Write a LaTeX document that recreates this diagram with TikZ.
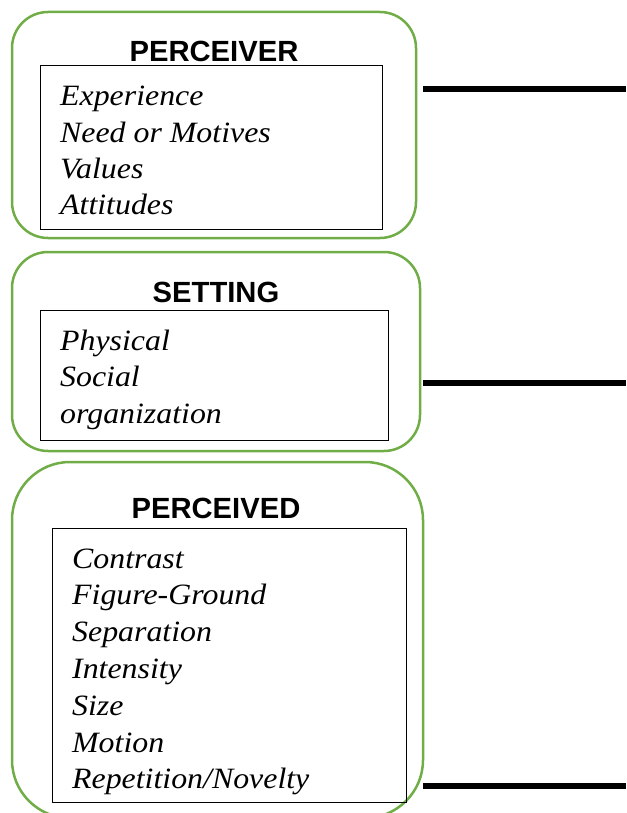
\documentclass[tikz,border=0pt]{standalone}
\usepackage{fontspec}
\setmainfont{Liberation Serif}
\newfontfamily\arialfont{Liberation Sans}
\definecolor{grn}{RGB}{112,173,71}
\newcommand{\wideitem}[1]{\scalebox{1.08}[1]{#1}}
\tikzset{
 outerbox/.style={draw=grn, line width=2.5pt, anchor=north west, inner sep=0, outer sep=0},
 innerbox/.style={draw=black, line width=1pt, anchor=north west, inner sep=0, outer sep=0},
 titletext/.style={font=\arialfont\bfseries\fontsize{29.2}{34}\selectfont, anchor=base, inner sep=0},
 itemtext/.style={font=\itshape\fontsize{29.5}{36}\selectfont, anchor=base west, inner sep=0},
 link/.style={line width=6pt}
}
\begin{document}
\begin{tikzpicture}[x=1pt,y=-1pt]
\useasboundingbox (0,0) rectangle (626,813);
% PERCEIVER
\node[outerbox, rounded corners=36pt, minimum width=404pt, minimum height=226pt] (perceiver) at (12,12) {};
\node[innerbox, minimum width=342pt, minimum height=163pt] (perceiverlist) at (40,66) {};
\node[titletext] (perceivertitle) at (214,62) {PERCEIVER};
\foreach \t [count=\i] in {Experience, Need or Motives, Values, Attitudes}
  \node[itemtext] (pa\i) at (60,{106+36.2*(\i-1)}) {\wideitem{\t}};
% SETTING
\node[outerbox, rounded corners=36pt, minimum width=408pt, minimum height=199pt] (setting) at (12,252) {};
\node[innerbox, minimum width=348pt, minimum height=130pt] (settinglist) at (40,310) {};
\node[titletext] (settingtitle) at (216,302) {SETTING};
\foreach \t [count=\i] in {Physical, Social, organization}
  \node[itemtext] (sa\i) at (60,{350+36.5*(\i-1)}) {\wideitem{\t}};
% PERCEIVED
\node[outerbox, rounded corners=58pt, minimum width=411pt, minimum height=356pt] (perceived) at (12,462) {};
\node[innerbox, minimum width=354pt, minimum height=274pt] (perceivedlist) at (52,528) {};
\node[titletext] (perceivedtitle) at (216,518) {PERCEIVED};
\foreach \t [count=\i] in {Contrast, Figure-Ground, Separation, Intensity, Size, Motion, Repetition/Novelty}
  \node[itemtext] (da\i) at (72,{568+36.8*(\i-1)}) {\wideitem{\t}};
% connectors
\coordinate (l1a) at (423,89);  \coordinate (l1b) at (626,89);
\coordinate (l2a) at (423,383); \coordinate (l2b) at (626,383);
\coordinate (l3a) at (423,786); \coordinate (l3b) at (626,786);
\draw[link] (l1a) -- (l1b);
\draw[link] (l2a) -- (l2b);
\draw[link] (l3a) -- (l3b);
\end{tikzpicture}
\end{document}
